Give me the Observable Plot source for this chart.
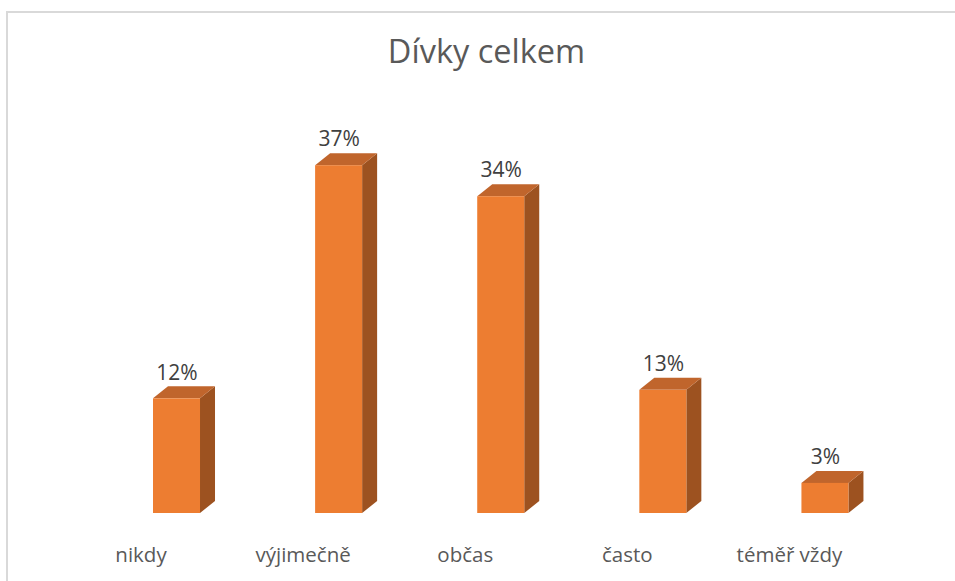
<!DOCTYPE html>
<html>
<head>
<meta charset="utf-8">
<script src="https://cdn.jsdelivr.net/npm/d3@7"></script>
<script src="https://cdn.jsdelivr.net/npm/@observablehq/plot@0.6"></script>
<style>
  html, body { margin: 0; padding: 0; background: #fff; }
  #wrap { position: relative; width: 955px; height: 581px; overflow: hidden; font-family: "Open Sans", sans-serif; }
  #frame { position: absolute; left: 6px; top: 11px; width: 1000px; height: 1000px; border: 2px solid #d9d9d9; box-sizing: border-box; }
  #title { position: relative; height: 90px; box-sizing: border-box; padding-left: 18px; padding-top: 31px; text-align: center; font-size: 32.5px; color: #595959; line-height: 40px; }
  #chart { position: relative; }
</style>
</head>
<body>
<div id="wrap">
  <div id="frame"></div>
  <div id="title">Dívky celkem</div>
  <div id="chart"></div>
</div>
<script>
const categories = ["nikdy", "výjimečně", "občas", "často", "téměř vždy"];
const values = [12.2, 37.0, 33.7, 13.1, 3.2];
const labels = ["12%", "37%", "34%", "13%", "3%"];

const data = categories.map((c, i) => ({cat: c, value: values[i], label: labels[i]}));

const FRONT = "#ED7D31", TOP = "#C0652C", SIDE = "#9D5220";
const DX = 15, DY = 12;

function depthFaces(index, scales) {
  const x = scales.x, y = scales.y;
  const bw = x.bandwidth ? x.bandwidth() : 47;
  const g = d3.create("svg:g");
  for (const d of data) {
    const x0 = x(d.cat), x1 = x0 + bw;
    const yt = y(d.value), yb = y(0);
    g.append("polygon")
      .attr("points", [[x1, yb], [x1 + DX, yb - DY], [x1 + DX, yt - DY], [x1, yt]].map(p => p.join(",")).join(" "))
      .attr("fill", SIDE);
    g.append("polygon")
      .attr("points", [[x0, yt], [x0 + DX, yt - DY], [x1 + DX, yt - DY], [x1, yt]].map(p => p.join(",")).join(" "))
      .attr("fill", TOP);
  }
  return g.node();
}

const plot = Plot.plot({
  width: 955,
  height: 491,
  margin: 0,
  style: {fontFamily: "Open Sans, sans-serif", color: "#595959", background: "transparent"},
  x: {type: "band", domain: categories, range: [95.45, 906], paddingInner: 0.71, paddingOuter: 0.355, round: false, axis: null},
  y: {domain: [0, 40], range: [423, 47], axis: null},
  marks: [
    depthFaces,
    Plot.barY(data, {x: "cat", y: "value", fill: FRONT}),
    Plot.text(data, {x: "cat", y: "value", text: "label", dy: -26, fontSize: 21, fill: "#404040"}),
    Plot.text(data, {x: "cat", y: () => 0, text: "cat", dy: 42, dx: -36, fontSize: 20.5, fill: "#595959"})
  ]
});
document.getElementById("chart").appendChild(plot);
</script>
</body>
</html>
